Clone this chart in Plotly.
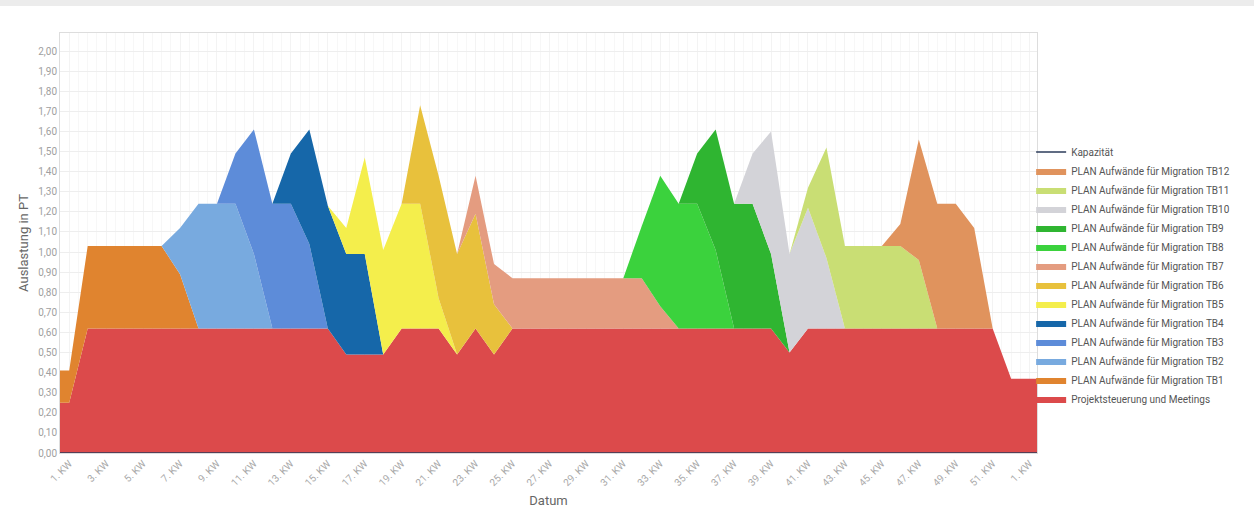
import plotly.graph_objects as go

# ---- data (weekly values, KW 1 .. KW 52) ----
weeks = list(range(1, 53))

projekt = [0.25, 0.62, 0.62, 0.62, 0.62, 0.62, 0.62, 0.62, 0.62, 0.62, 0.62, 0.62, 0.62,
           0.62, 0.62, 0.49, 0.49, 0.49, 0.62, 0.62, 0.62, 0.49, 0.62, 0.49, 0.62, 0.62,
           0.62, 0.62, 0.62, 0.62, 0.62, 0.62, 0.62, 0.62, 0.62, 0.62, 0.62, 0.62, 0.62,
           0.50, 0.62, 0.62, 0.62, 0.62, 0.62, 0.62, 0.62, 0.62, 0.62, 0.62, 0.62, 0.37]

tb1 = [0.16, 0.41, 0.41, 0.41, 0.41, 0.41, 0.27, 0, 0, 0, 0, 0, 0,
       0, 0, 0, 0, 0, 0, 0, 0, 0, 0, 0, 0, 0,
       0, 0, 0, 0, 0, 0, 0, 0, 0, 0, 0, 0, 0,
       0, 0, 0, 0, 0, 0, 0, 0, 0, 0, 0, 0, 0]

tb2 = [0, 0, 0, 0, 0, 0, 0.23, 0.62, 0.62, 0.62, 0.37, 0, 0,
       0, 0, 0, 0, 0, 0, 0, 0, 0, 0, 0, 0, 0,
       0, 0, 0, 0, 0, 0, 0, 0, 0, 0, 0, 0, 0,
       0, 0, 0, 0, 0, 0, 0, 0, 0, 0, 0, 0, 0]

tb3 = [0, 0, 0, 0, 0, 0, 0, 0, 0, 0.25, 0.62, 0.62, 0.62,
       0.42, 0, 0, 0, 0, 0, 0, 0, 0, 0, 0, 0, 0,
       0, 0, 0, 0, 0, 0, 0, 0, 0, 0, 0, 0, 0,
       0, 0, 0, 0, 0, 0, 0, 0, 0, 0, 0, 0, 0]

tb4 = [0, 0, 0, 0, 0, 0, 0, 0, 0, 0, 0, 0, 0.25,
       0.57, 0.61, 0.50, 0.50, 0, 0, 0, 0, 0, 0, 0, 0, 0,
       0, 0, 0, 0, 0, 0, 0, 0, 0, 0, 0, 0, 0,
       0, 0, 0, 0, 0, 0, 0, 0, 0, 0, 0, 0, 0]

tb5 = [0, 0, 0, 0, 0, 0, 0, 0, 0, 0, 0, 0, 0,
       0, 0, 0.13, 0.48, 0.52, 0.62, 0.62, 0.15, 0, 0, 0, 0, 0,
       0, 0, 0, 0, 0, 0, 0, 0, 0, 0, 0, 0, 0,
       0, 0, 0, 0, 0, 0, 0, 0, 0, 0, 0, 0, 0]

tb6 = [0, 0, 0, 0, 0, 0, 0, 0, 0, 0, 0, 0, 0,
       0, 0, 0, 0, 0, 0, 0.49, 0.61, 0.50, 0.57, 0.25, 0, 0,
       0, 0, 0, 0, 0, 0, 0, 0, 0, 0, 0, 0, 0,
       0, 0, 0, 0, 0, 0, 0, 0, 0, 0, 0, 0, 0]

tb7 = [0, 0, 0, 0, 0, 0, 0, 0, 0, 0, 0, 0, 0,
       0, 0, 0, 0, 0, 0, 0, 0, 0, 0.19, 0.20, 0.25, 0.25,
       0.25, 0.25, 0.25, 0.25, 0.25, 0.25, 0.11, 0, 0, 0, 0, 0, 0,
       0, 0, 0, 0, 0, 0, 0, 0, 0, 0, 0, 0, 0]

tb8 = [0, 0, 0, 0, 0, 0, 0, 0, 0, 0, 0, 0, 0,
       0, 0, 0, 0, 0, 0, 0, 0, 0, 0, 0, 0, 0,
       0, 0, 0, 0, 0, 0.26, 0.65, 0.62, 0.62, 0.39, 0, 0, 0,
       0, 0, 0, 0, 0, 0, 0, 0, 0, 0, 0, 0, 0]

tb9 = [0, 0, 0, 0, 0, 0, 0, 0, 0, 0, 0, 0, 0,
       0, 0, 0, 0, 0, 0, 0, 0, 0, 0, 0, 0, 0,
       0, 0, 0, 0, 0, 0, 0, 0, 0.25, 0.60, 0.62, 0.62, 0.37,
       0, 0, 0, 0, 0, 0, 0, 0, 0, 0, 0, 0, 0]

tb10 = [0, 0, 0, 0, 0, 0, 0, 0, 0, 0, 0, 0, 0,
        0, 0, 0, 0, 0, 0, 0, 0, 0, 0, 0, 0, 0,
        0, 0, 0, 0, 0, 0, 0, 0, 0, 0, 0, 0.25, 0.61,
        0.49, 0.60, 0.35, 0, 0, 0, 0, 0, 0, 0, 0, 0, 0]

tb11 = [0, 0, 0, 0, 0, 0, 0, 0, 0, 0, 0, 0, 0,
        0, 0, 0, 0, 0, 0, 0, 0, 0, 0, 0, 0, 0,
        0, 0, 0, 0, 0, 0, 0, 0, 0, 0, 0, 0, 0,
        0, 0.10, 0.55, 0.41, 0.41, 0.41, 0.41, 0.34, 0, 0, 0, 0, 0]

tb12 = [0, 0, 0, 0, 0, 0, 0, 0, 0, 0, 0, 0, 0,
        0, 0, 0, 0, 0, 0, 0, 0, 0, 0, 0, 0, 0,
        0, 0, 0, 0, 0, 0, 0, 0, 0, 0, 0, 0, 0,
        0, 0, 0, 0, 0, 0, 0.11, 0.60, 0.62, 0.62, 0.50, 0, 0]

kapazitaet = [0] * 52

series_names = ["Projektsteuerung und Meetings"] + \
    [f"PLAN Aufwände für Migration TB{i}" for i in range(1, 13)]
series_values = [projekt, tb1, tb2, tb3, tb4, tb5, tb6, tb7, tb8, tb9, tb10, tb11, tb12]
series_colors = ["#dc4a4b", "#e0842f", "#78aadf", "#5d8cd9", "#1667a9", "#f4ee4c",
                 "#e8c13c", "#e49c80", "#3bd23d", "#2fb531", "#d3d3d8", "#c9de74", "#e0935d"]

tick_labels = ["1. KW", "3. KW", "5. KW", "7. KW", "9. KW", "11. KW", "13. KW", "15. KW",
               "17. KW", "19. KW", "21. KW", "23. KW", "25. KW", "27. KW", "29. KW",
               "31. KW", "33. KW", "35. KW", "37. KW", "39. KW", "41. KW", "43. KW",
               "45. KW", "47. KW", "49. KW", "51. KW", "1. KW"]

x_start, x_end = -0.5, 52.4  # date axis begins before KW1 and ends just after next year's KW1

# week positions (0-based index of week)
xpos = [w - 1 for w in weeks]
x_ext = [x_start] + xpos + [x_end]


def ext(vals):
    return [vals[0]] + list(vals) + [vals[-1]]


fig = go.Figure()
for name, vals, col in zip(series_names, series_values, series_colors):
    fig.add_trace(go.Scatter(
        x=x_ext, y=ext(vals), name=name, mode="lines",
        stackgroup="one", line=dict(width=0, color=col), fillcolor=col,
    ))

fig.add_trace(go.Scatter(
    x=x_ext, y=ext(kapazitaet), name="Kapazität", mode="lines",
    line=dict(color="#2b3b5a", width=1.5),
))

fig.update_layout(
    width=1254, height=523,
    margin=dict(l=60, r=217, t=33, b=70, autoexpand=False),
    paper_bgcolor="white", plot_bgcolor="white",
    font=dict(family="Roboto", color="#666"),
    separators=",.",
    showlegend=True,
    legend=dict(
        traceorder="reversed", x=0.994, xanchor="left", y=0.751, yanchor="top",
        font=dict(size=10, color="#555"), itemwidth=30, tracegroupgap=0,
        bgcolor="rgba(0,0,0,0)",
    ),
    shapes=[dict(type="rect", xref="paper", yref="paper",
                 x0=-0.07, x1=1.23, y0=1.064, y1=1.08,
                 fillcolor="#ececec", line=dict(width=0), layer="below")],
)

fig.update_xaxes(
    range=[x_start, x_end],
    tickmode="array",
    tickvals=[2 * i for i in range(len(tick_labels))],
    ticktext=tick_labels,
    tickangle=-45,
    tickfont=dict(size=10, color="#a8a8a8"),
    showgrid=True, gridcolor="rgba(238,238,238,0.45)", gridwidth=1,
    minor=dict(tick0=0, dtick=0.5, showgrid=True, gridcolor="rgba(238,238,238,0.45)", gridwidth=1),
    layer="above traces",
    showline=True, linecolor="#dddddd", mirror=True,
    ticks="", zeroline=False,
    title=dict(text="Datum", font=dict(size=13, color="#666"), standoff=8),
)

fig.update_yaxes(
    range=[0, 2.09],
    tick0=0, dtick=0.1, tickformat=".2f",
    tickfont=dict(size=10, color="#a0a0a0"),
    showgrid=True, gridcolor="#eeeeee",
    showline=True, linecolor="#dddddd", mirror=True,
    zeroline=False, ticks="",
    layer="below traces",
    title=dict(text="Auslastung in PT", font=dict(size=13, color="#666"), standoff=6),
)

fig.write_html("out.html", config={"displayModeBar": False},
               post_script="document.body.style.margin='0';")
